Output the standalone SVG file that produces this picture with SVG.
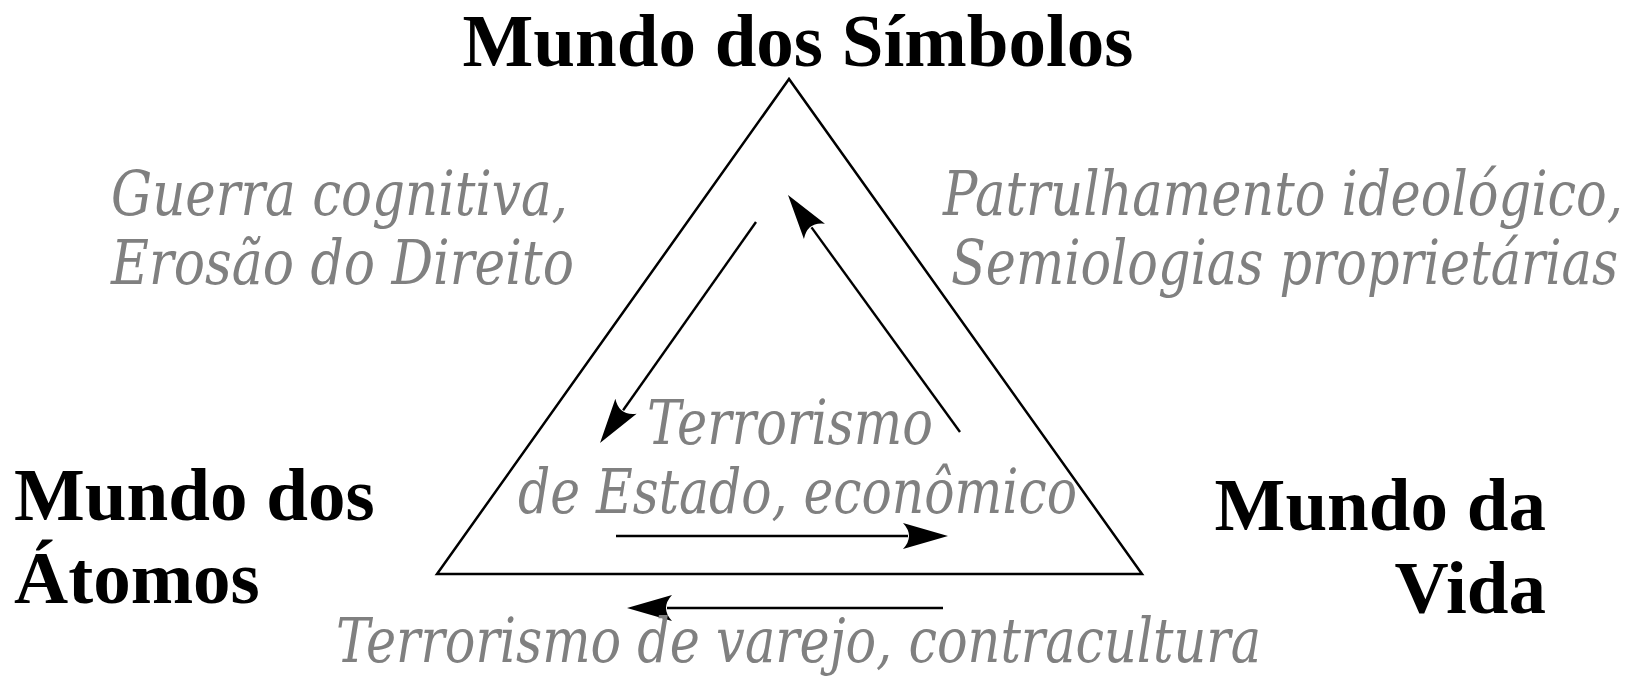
<svg xmlns="http://www.w3.org/2000/svg" width="1630" height="676" viewBox="0 0 1630 676">
<style>
.title{font-family:"Liberation Serif","Times New Roman",serif;font-weight:bold;font-size:75px;fill:#000}
.note{font-family:"DejaVu Serif",serif;font-style:italic;font-size:62px;fill:#808080}
.edge{fill:none;stroke:#000;stroke-width:2.4}
</style>
<defs>
<marker id="ah" markerUnits="userSpaceOnUse" viewBox="-50 -20 60 40" refX="-40" refY="0" markerWidth="60" markerHeight="40" orient="auto" overflow="visible">
<path d="M0,0 L-45,-13 Q-33,0 -45,13 Z" fill="#000"/>
</marker>
</defs>
<rect width="1630" height="676" fill="#fff"/>
<g id="triangle">
<polygon points="789,79 437,574 1142,574" fill="none" stroke="#000" stroke-width="2.5" stroke-linejoin="miter"/>
</g>
<g id="connectors">
<line class="edge" x1="756" y1="222" x2="623.1" y2="410.3" marker-end="url(#ah)"/>
<line class="edge" x1="960" y1="432" x2="811.5" y2="227.4" marker-end="url(#ah)"/>
<line class="edge" x1="616" y1="536" x2="908" y2="536" marker-end="url(#ah)"/>
<line class="edge" x1="943" y1="608" x2="667" y2="608" marker-end="url(#ah)"/>
</g>
<g id="node-simbolos">
<text class="title" x="798" y="66" text-anchor="middle">Mundo dos Símbolos</text>
</g>
<g id="node-atomos">
<text class="title" x="14" y="520">Mundo dos</text>
<text class="title" x="14" y="603">Átomos</text>
</g>
<g id="node-vida">
<text class="title" x="1546" y="530" text-anchor="end">Mundo da</text>
<text class="title" x="1546" y="613" text-anchor="end">Vida</text>
</g>
<g id="label-left">
<text class="note" x="111" y="215" textLength="457" lengthAdjust="spacingAndGlyphs">Guerra cognitiva,</text>
<text class="note" x="111" y="284" textLength="463" lengthAdjust="spacingAndGlyphs">Erosão do Direito</text>
</g>
<g id="label-right">
<text class="note" x="943" y="215" textLength="680" lengthAdjust="spacingAndGlyphs">Patrulhamento ideológico,</text>
<text class="note" x="951" y="284" textLength="667" lengthAdjust="spacingAndGlyphs">Semiologias proprietárias</text>
</g>
<g id="label-center">
<text class="note" x="647" y="444" textLength="286" lengthAdjust="spacingAndGlyphs">Terrorismo</text>
<text class="note" x="518" y="513" textLength="559" lengthAdjust="spacingAndGlyphs">de Estado, econômico</text>
</g>
<g id="label-bottom">
<text class="note" x="336" y="662" textLength="925" lengthAdjust="spacingAndGlyphs">Terrorismo de varejo, contracultura</text>
</g>
</svg>
